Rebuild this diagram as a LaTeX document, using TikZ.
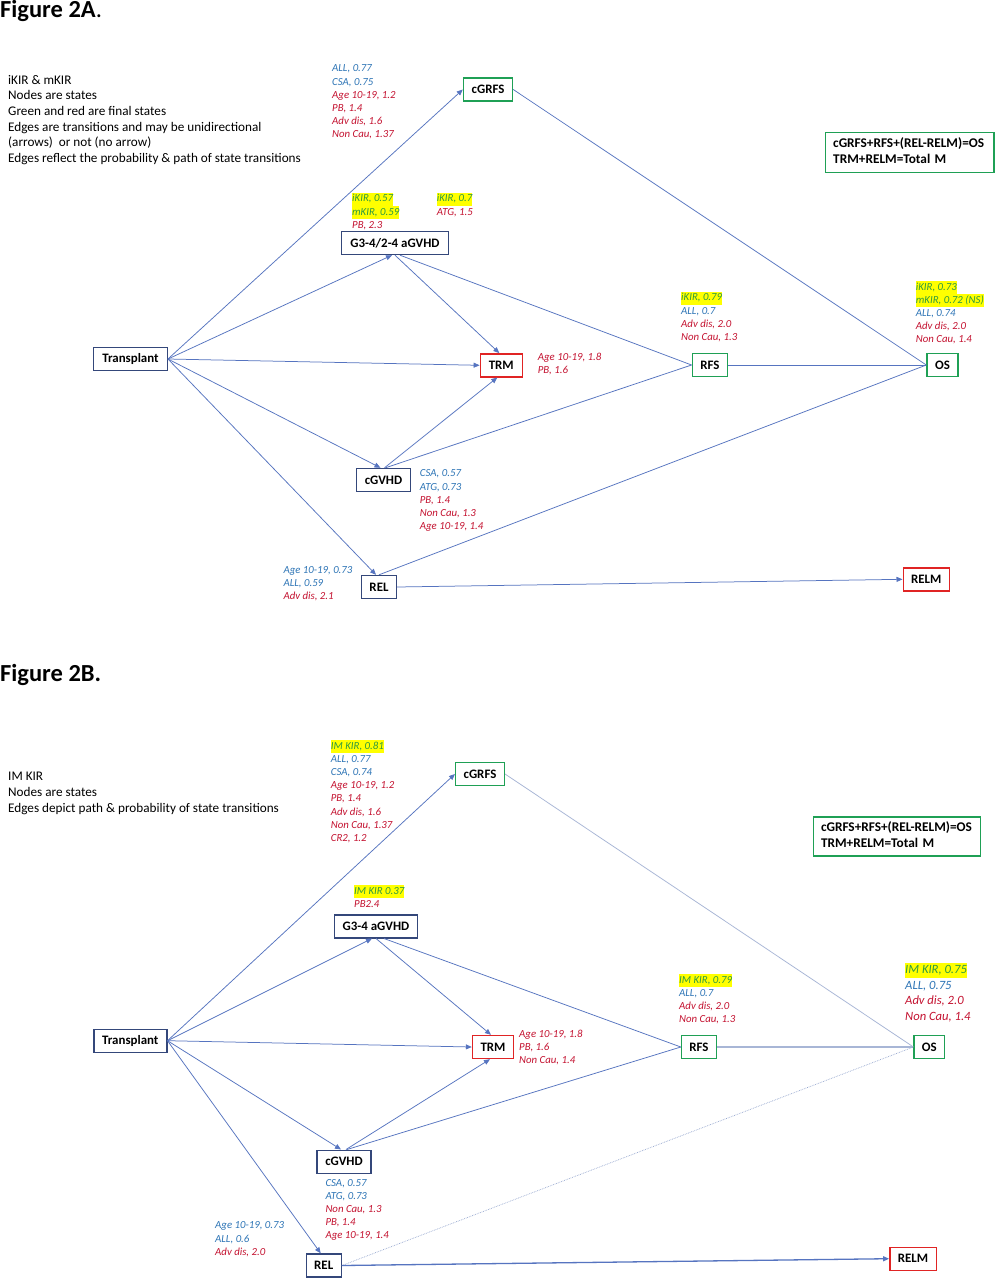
\documentclass[tikz,border=0pt]{standalone}
\usepackage{fontspec}
\setmainfont{Carlito}
\usetikzlibrary{arrows.meta}
\definecolor{edgeblue}{HTML}{5674C0}
\definecolor{edgelight}{HTML}{A8B6D6}
\definecolor{edgedot}{HTML}{94A6CF}
\definecolor{navyb}{HTML}{34477A}
\definecolor{greenb}{HTML}{1FA055}
\definecolor{redb}{HTML}{E02424}
\definecolor{tblue}{HTML}{2E75B6}
\definecolor{tred}{HTML}{C41230}
\definecolor{tgreen}{HTML}{2F9A3F}
\definecolor{hly}{HTML}{FFFF00}
\setlength\fboxsep{0pt}
\newcommand\annB[1]{\textcolor{tblue}{\strut #1}}
\newcommand\annR[1]{\textcolor{tred}{\strut #1}}
\newcommand\annH[1]{\colorbox{hly}{\textcolor{tgreen}{\strut #1}}}
\begin{document}
\begin{tikzpicture}[x=1pt,y=-1pt,
 stbox/.style={draw,line width=1.4pt,fill=white,inner sep=0pt,minimum height=23pt,font=\fontsize{12.9}{15}\selectfont\bfseries},
 nv/.style={stbox,draw=navyb}, gr/.style={stbox,draw=greenb}, rd/.style={stbox,draw=redb},
 ed/.style={draw=edgeblue,line width=0.75pt},
 ar/.style={ed,-{Triangle[length=6pt,width=5pt]}},
 anno/.style={inner sep=0pt,anchor=north west,yshift=9.17pt,align=left,font=\fontsize{10.8}{13.1}\selectfont\itshape},
 annoL/.style={inner sep=0pt,anchor=north west,yshift=10.85pt,align=left,font=\fontsize{12.6}{15.5}\selectfont\itshape},
 legend/.style={inner sep=0pt,anchor=north west,yshift=10.92pt,align=left,font=\fontsize{13.2}{15.6}\selectfont},
 titl/.style={inner sep=0pt,anchor=base west,font=\fontsize{24.5}{28}\selectfont\bfseries},
 formula/.style={draw=greenb,line width=1.4pt,inner sep=0pt,align=left,font=\fontsize{13.3}{16}\selectfont\bfseries}
]
\useasboundingbox[fill=white] (0,0) rectangle (997,1280);

% ================= Figure 2A =================
\node[titl] (t1) at (0,17.3) {Figure 2A{\mdseries .}};
\node[legend] (lg1) at (8,84) {\strut iKIR \& mKIR\\\strut Nodes are states\\\strut Green and red are final states\\\strut Edges are transitions and may be unidirectional\\\strut (arrows)~ or not (no arrow)\\\strut Edges reflect the probability \& path of state transitions};
\node[formula,minimum width=168.5pt,minimum height=40pt,text width=153pt] (f1) at (909.7,152.6) {\strut cGRFS+RFS+(REL-RELM)=OS\\\strut TRM+RELM=Total M};

\node[nv,minimum width=73.5pt] (T1) at (130.5,359) {Transplant};
\node[gr,minimum width=49pt] (G1) at (488,89.5) {cGRFS};
\node[nv,minimum width=107pt] (A1) at (395,243) {G3-4/2-4 aGVHD};
\node[rd,minimum width=42pt] (M1) at (501.3,365.3) {TRM};
\node[gr,minimum width=35.5pt] (R1) at (710,365) {RFS};
\node[gr,minimum width=31pt] (O1) at (942.5,365) {OS};
\node[nv,minimum width=54.5pt] (C1) at (383.5,480) {cGVHD};
\node[nv,minimum width=34.5pt] (L1) at (379,587) {REL};
\node[rd,minimum width=46pt] (E1) at (926.2,579.3) {RELM};

\draw[ar] (T1.east) -- (G1.west);
\draw[ar] (T1.east) -- ([xshift=-3pt]A1.south);
\draw[ar] (T1.east) -- (M1.west);
\draw[ar] (T1.east) -- ([xshift=-3pt]C1.north);
\draw[ar] (T1.east) -- ([xshift=-3pt]L1.north);
\draw[ar] (A1.south) -- ([xshift=-2pt]M1.north);
\draw[ed] ([xshift=5pt]A1.south) -- (R1.west);
\draw[ar] ([xshift=1pt]C1.north) -- ([xshift=-4pt]M1.south);
\draw[ed] ([xshift=2pt]C1.north) -- (R1.west);
\draw[ed] (G1.east) -- (O1.west);
\draw[ed] (R1.east) -- (O1.west);
\draw[ed] (L1.north) -- (O1.west);
\draw[ar] (L1.east) -- (E1.west);

\node[anno] (a1g) at (332,71.7) {\annB{ALL, 0.77}\\\annB{CSA, 0.75}\\\annR{Age 10-19, 1.2}\\\annR{PB, 1.4}\\\annR{Adv dis, 1.6}\\\annR{Non Cau, 1.37}};
\node[anno] (a1a) at (352,201.7) {\annH{iKIR, 0.57}\\\annH{mKIR, 0.59}\\\annR{PB, 2.3}};
\node[anno] (a1b) at (436.7,201.7) {\annH{iKIR, 0.7}\\\annR{ATG, 1.5}};
\node[anno] (a1m) at (537.7,360) {\annR{Age 10-19, 1.8}\\\annR{PB, 1.6}};
\node[anno] (a1r) at (681,300.7) {\annH{iKIR, 0.79}\\\annB{ALL, 0.7}\\\annR{Adv dis, 2.0}\\\annR{Non Cau, 1.3}};
\node[anno] (a1o) at (915.7,290) {\annH{iKIR, 0.73}\\\annH{mKIR, 0.72 (NS)}\\\annB{ALL, 0.74}\\\annR{Adv dis, 2.0}\\\annR{Non Cau, 1.4}};
\node[anno] (a1c) at (419.7,476.7) {\annB{CSA, 0.57}\\\annB{ATG, 0.73}\\\annR{PB, 1.4}\\\annR{Non Cau, 1.3}\\\annR{Age 10-19, 1.4}};
\node[anno] (a1l) at (283.3,573.3) {\annB{Age 10-19, 0.73}\\\annB{ALL, 0.59}\\\annR{Adv dis, 2.1}};

% ================= Figure 2B =================
\node[titl] (t2) at (0,681.7) {Figure 2B.};
\node[legend] (lg2) at (8,780.7) {\strut IM KIR\\\strut Nodes are states\\\strut Edges depict path \& probability of state transitions};
\node[formula,minimum width=167pt,minimum height=39pt,text width=152pt] (f2) at (897,836.3) {\strut cGRFS+RFS+(REL-RELM)=OS\\\strut TRM+RELM=Total M};

\node[nv,minimum width=73pt] (T2) at (130.3,1040.7) {Transplant};
\node[gr,minimum width=48.7pt] (G2) at (480,774) {cGRFS};
\node[nv,minimum width=83pt] (A2) at (376,926.3) {G3-4 aGVHD};
\node[rd,minimum width=41pt] (M2) at (493,1047) {TRM};
\node[gr,minimum width=35pt] (R2) at (699,1047) {RFS};
\node[gr,minimum width=30.3pt] (O2) at (929.3,1047) {OS};
\node[nv,minimum width=53.7pt] (C2) at (344,1161.7) {cGVHD};
\node[nv,minimum width=35pt] (L2) at (323.7,1265.5) {REL};
\node[rd,minimum width=46.4pt] (E2) at (913,1258.7) {RELM};

\draw[ar] (T2.east) -- (G2.west);
\draw[ar] (T2.east) -- ([xshift=-4pt]A2.south);
\draw[ar] (T2.east) -- (M2.west);
\draw[ar] (T2.east) -- ([xshift=-3pt]C2.north);
\draw[ar] (T2.east) -- ([xshift=-3pt]L2.north);
\draw[ar] (A2.south) -- ([xshift=-2pt]M2.north);
\draw[ed] ([xshift=8pt]A2.south) -- (R2.west);
\draw[ar] ([xshift=2pt]C2.north) -- ([xshift=-3pt]M2.south);
\draw[ed] ([xshift=3pt]C2.north) -- (R2.west);
\draw[draw=edgelight,line width=0.75pt] (G2.east) -- (O2.west);
\draw[draw=edgelight,line width=1.2pt] (R2.east) -- (O2.west);
\draw[draw=edgedot,line width=0.7pt,densely dotted] (L2.east) -- (O2.west);
\draw[ar,line width=1.3pt] (L2.east) -- (E2.west);

\node[anno] (a2g) at (330.7,749.3) {\annH{IM KIR, 0.81}\\\annB{ALL, 0.77}\\\annB{CSA, 0.74}\\\annR{Age 10-19, 1.2}\\\annR{PB, 1.4}\\\annR{Adv dis, 1.6}\\\annR{Non Cau, 1.37}\\\annR{CR2, 1.2}};
\node[anno] (a2a) at (354,894) {\annH{IM KIR 0.37}\\\annR{PB2.4}};
\node[anno] (a2r) at (679,983.3) {\annH{IM KIR, 0.79}\\\annB{ALL, 0.7}\\\annR{Adv dis, 2.0}\\\annR{Non Cau, 1.3}};
\node[annoL] (a2o) at (905,973.3) {\annH{IM KIR, 0.75}\\\annB{ALL, 0.75}\\\annR{Adv dis, 2.0}\\\annR{Non Cau, 1.4}};
\node[anno] (a2m) at (519,1037.3) {\annR{Age 10-19, 1.8}\\\annR{PB, 1.6}\\\annR{Non Cau, 1.4}};
\node[anno] (a2c) at (325.3,1186) {\annB{CSA, 0.57}\\\annB{ATG, 0.73}\\\annR{Non Cau, 1.3}\\\annR{PB, 1.4}\\\annR{Age 10-19, 1.4}};
\node[anno] (a2l) at (215,1228.7) {\annB{Age 10-19, 0.73}\\\annB{ALL, 0.6}\\\annR{Adv dis, 2.0}};
\end{tikzpicture}
\end{document}
